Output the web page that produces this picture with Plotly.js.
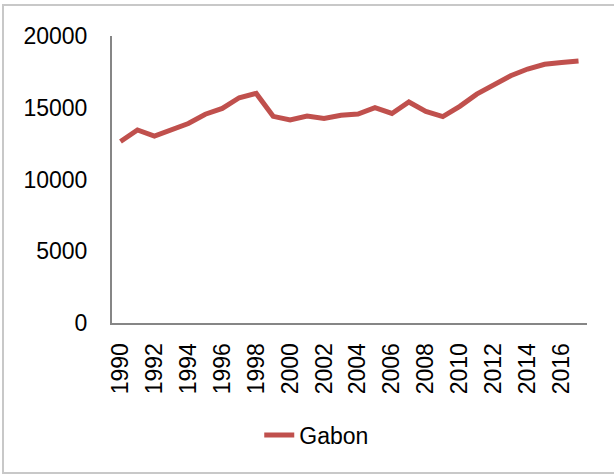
<!DOCTYPE html>
<html>
<head>
<meta charset="utf-8">
<script src="https://cdn.plot.ly/plotly-3.0.1.min.js"></script>
<style>
html,body{margin:0;padding:0;background:#fff;}
#frame{position:absolute;left:2px;top:4px;width:620px;height:470px;border:2px solid #c8c8c8;box-sizing:border-box;pointer-events:none;z-index:5;}
#chart{position:absolute;left:0;top:0;width:614px;height:475px;}
</style>
</head>
<body>
<div id="chart"></div>
<div id="frame"></div>
<script>
const years = ["1990","1991","1992","1993","1994","1995","1996","1997","1998","1999",
  "2000","2001","2002","2003","2004","2005","2006","2007","2008","2009",
  "2010","2011","2012","2013","2014","2015","2016","2017"];
const gabon = [12650,13450,13020,13450,13900,14550,14950,15700,16000,14400,
  14150,14420,14250,14480,14560,15000,14600,15400,14750,14380,
  15100,15950,16580,17230,17700,18030,18150,18250];
const tickYears = years.filter((y,i)=>i%2===0);
const seriesName = "Gabon";

const font = "Liberation Sans, Arial, sans-serif";
Plotly.newPlot('chart', [{
  x: years, y: gabon, type: 'scatter', mode: 'lines', name: seriesName,
  line: {color: '#c0504d', width: 5}
}], {
  width: 614, height: 475,
  margin: {l: 112, r: 27, t: 36, b: 152},
  paper_bgcolor: '#fff', plot_bgcolor: '#fff',
  font: {family: font, size: 23, color: '#000'},
  showlegend: true,
  legend: {orientation: 'h', x: 0.31, xanchor: 'left', y: -0.39, yanchor: 'middle',
    font: {family: font, size: 23, color: '#000'}},
  xaxis: {type: 'category', range: [-0.5, 27.5], tickvals: tickYears, ticktext: tickYears,
    tickangle: -90, showgrid: false, zeroline: false, showline: true,
    linecolor: '#868686', linewidth: 2, ticks: '', ticklabelstandoff: 9,
    tickfont: {family: font, size: 23, color: '#000'}},
  yaxis: {range: [0, 20000], dtick: 5000, tick0: 0, tickformat: 'd', showgrid: false, zeroline: false,
    showline: true, linecolor: '#868686', linewidth: 2, ticks: '', ticklabelstandoff: 18,
    tickfont: {family: font, size: 23, color: '#000'}}
}, {displayModeBar: false, staticPlot: true});
</script>
</body>
</html>
